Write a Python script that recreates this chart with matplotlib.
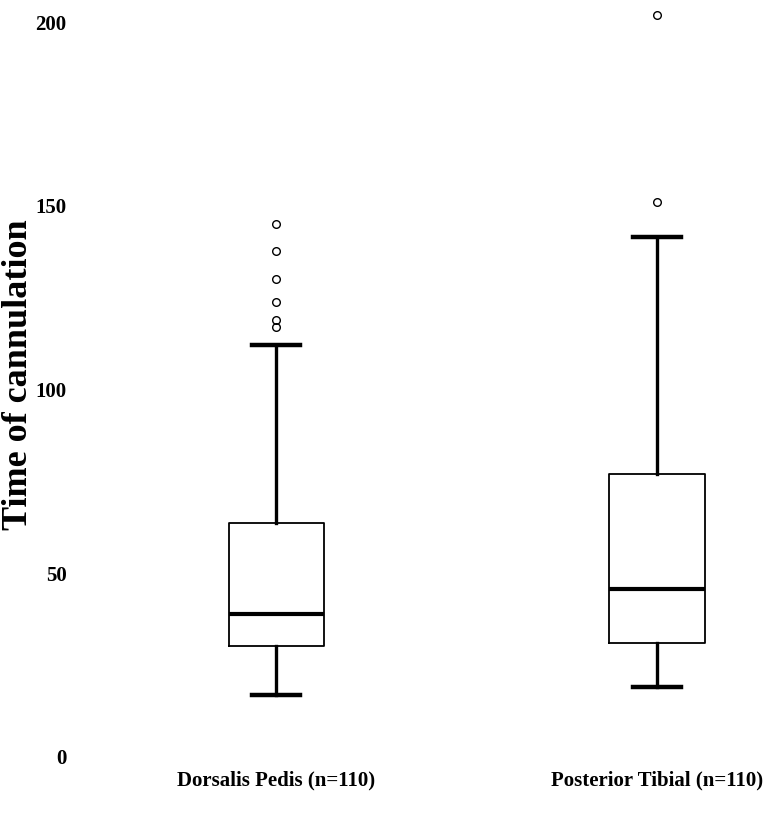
import matplotlib.pyplot as plt

groups = ["Dorsalis Pedis (n=110)", "Posterior Tibial (n=110)"]
whislo = [17.0, 19.0]
q1 = [30.3, 31.0]
med = [39.0, 45.7]
q3 = [63.8, 77.0]
whishi = [112.1, 141.5]
fliers = [
    [117.1, 118.9, 123.9, 130.1, 137.8, 145.0],
    [151.0, 201.9],
]
yticks = [0, 50, 100, 150, 200]

plt.rcParams["font.family"] = ["Liberation Serif", "DejaVu Serif"]
plt.rcParams["font.weight"] = "bold"

fig = plt.figure(figsize=(7.79, 8.23), dpi=100)
ax = fig.add_axes([75 / 779, 66 / 823, 704 / 779, 735 / 823])

stats = []
for i, name in enumerate(groups):
    stats.append({
        "label": name,
        "whislo": whislo[i],
        "q1": q1[i],
        "med": med[i],
        "q3": q3[i],
        "whishi": whishi[i],
        "fliers": fliers[i],
    })

ax.bxp(
    stats,
    positions=[1, 2],
    widths=0.25,
    boxprops=dict(color="black", linewidth=1.3),
    medianprops=dict(color="black", linewidth=3.0),
    whiskerprops=dict(color="black", linewidth=2.4),
    capprops=dict(color="black", linewidth=3.2),
    flierprops=dict(marker="o", markersize=5.5, markerfacecolor="none",
                    markeredgecolor="black", markeredgewidth=1.0),
)
for art in ax.get_children():
    if hasattr(art, "set_clip_on"):
        art.set_clip_on(False)

ax.set_xlim(0.472, 2.32)
ax.set_ylim(0, 200)
ax.set_yticks(yticks)
ax.set_yticklabels([str(v) for v in yticks], fontsize=15, fontweight="bold")
ax.set_xticks([1, 2])
ax.set_xticklabels(groups, fontsize=15, fontweight="bold")
ax.tick_params(axis="both", length=0)
ax.tick_params(axis="y", pad=6)
ax.tick_params(axis="x", pad=10)
for s in ax.spines.values():
    s.set_visible(False)

ax.set_ylabel("Time of cannulation", fontsize=26, fontweight="bold")
ax.yaxis.set_label_coords(-0.057, 0.52)

fig.savefig("out.png", dpi=100, facecolor="white")
